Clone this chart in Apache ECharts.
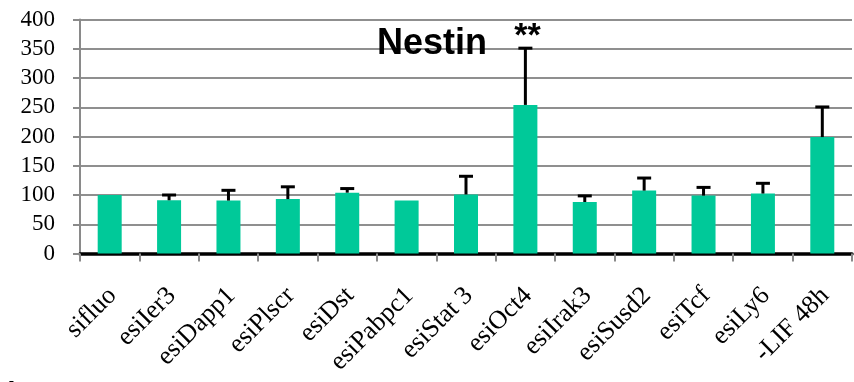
<!DOCTYPE html>
<html>
<head>
<meta charset="utf-8">
<script src="https://cdn.jsdelivr.net/npm/echarts@6/dist/echarts.min.js"></script>
<style>
  html, body { margin: 0; padding: 0; background: #fff; }
  #chart { width: 854px; height: 382px; }
</style>
</head>
<body>
<div id="chart"></div>
<script>
// Nestin expression after knockdown, relative to sifluo control (%)
const categories = ['sifluo', 'esiIer3', 'esiDapp1', 'esiPlscr', 'esiDst', 'esiPabpc1', 'esiStat 3',
  'esiOct4', 'esiIrak3', 'esiSusd2', 'esiTcf', 'esiLy6', '-LIF 48h'];
const values = [100, 91, 90.5, 93, 104, 90.5, 101, 254, 88, 107.5, 99, 102.5, 199];
const errors = [0, 9, 17.5, 21, 7, 0, 31, 97, 10.5, 21.5, 14, 17.5, 51.5];
const significance = ['', '', '', '', '', '', '', '**', '', '', '', '', ''];
const yTicks = { min: 0, max: 400, step: 50 };

const chart = echarts.init(document.getElementById('chart'), null, { renderer: 'canvas' });

const errorData = categories.map((c, i) => [i, values[i], errors[i]]);

function renderError(params, api) {
  const i = api.value(0);
  const v = api.value(1);
  const e = api.value(2);
  const children = [];
  const base = api.coord([i, v]);
  const top = api.coord([i, v + e]);
  const style = { stroke: '#000', lineWidth: 3 };
  if (e > 0) {
    children.push({ type: 'line', shape: { x1: base[0], y1: base[1], x2: top[0], y2: top[1] }, style });
    children.push({ type: 'line', shape: { x1: top[0] - 7, y1: top[1], x2: top[0] + 7, y2: top[1] }, style });
  }
  const note = significance[params.dataIndex];
  if (note) {
    children.push({
      type: 'text',
      x: top[0] + 2,
      y: top[1] + 5,
      style: {
        text: note, fill: '#000', align: 'center', verticalAlign: 'bottom',
        font: 'bold 34px "Liberation Sans", Arial, sans-serif'
      }
    });
  }
  return { type: 'group', children };
}

chart.setOption({
  animation: false,
  backgroundColor: '#fff',
  title: {
    text: 'Nestin',
    left: 377,
    top: 26,
    padding: 0,
    textStyle: { fontFamily: '"Liberation Sans", Arial, sans-serif', fontWeight: 'bold', fontSize: 36, color: '#000' }
  },
  grid: { left: 80, right: 2, top: 19.5, bottom: 128.5, containLabel: false },
  xAxis: {
    type: 'category',
    data: categories,
    axisLine: { lineStyle: { color: '#000', width: 3.5 } },
    axisTick: { show: true, length: 8, lineStyle: { color: '#8a8a8a', width: 2 } },
    axisLabel: {
      rotate: 45,
      interval: 0,
      margin: 41,
      padding: [0, -4, 0, 0],
      fontFamily: '"Liberation Serif", "Times New Roman", serif',
      fontSize: 26,
      color: '#000'
    }
  },
  yAxis: {
    type: 'value',
    min: yTicks.min,
    max: yTicks.max,
    interval: yTicks.step,
    axisLine: { show: true, lineStyle: { color: '#8a8a8a', width: 2 } },
    axisTick: { show: true, length: 7, lineStyle: { color: '#8a8a8a', width: 2 } },
    axisLabel: {
      margin: 25,
      fontFamily: '"Liberation Serif", "Times New Roman", serif',
      fontSize: 23,
      color: '#000'
    },
    splitLine: { lineStyle: { color: '#8f8f8f', width: 2 } }
  },
  graphic: [{
    type: 'text',
    left: -11,
    top: 379.5,
    style: { text: 'Fig.5', font: 'bold 30px "Liberation Sans", Arial, sans-serif', fill: '#000' }
  }],
  series: [
    {
      type: 'bar',
      data: values,
      barWidth: 24,
      itemStyle: { color: '#00c999' },
      z: 2
    },
    {
      type: 'custom',
      data: errorData,
      renderItem: renderError,
      encode: { x: 0, y: 1 },
      z: 5,
      silent: true
    }
  ]
});
</script>
</body>
</html>
